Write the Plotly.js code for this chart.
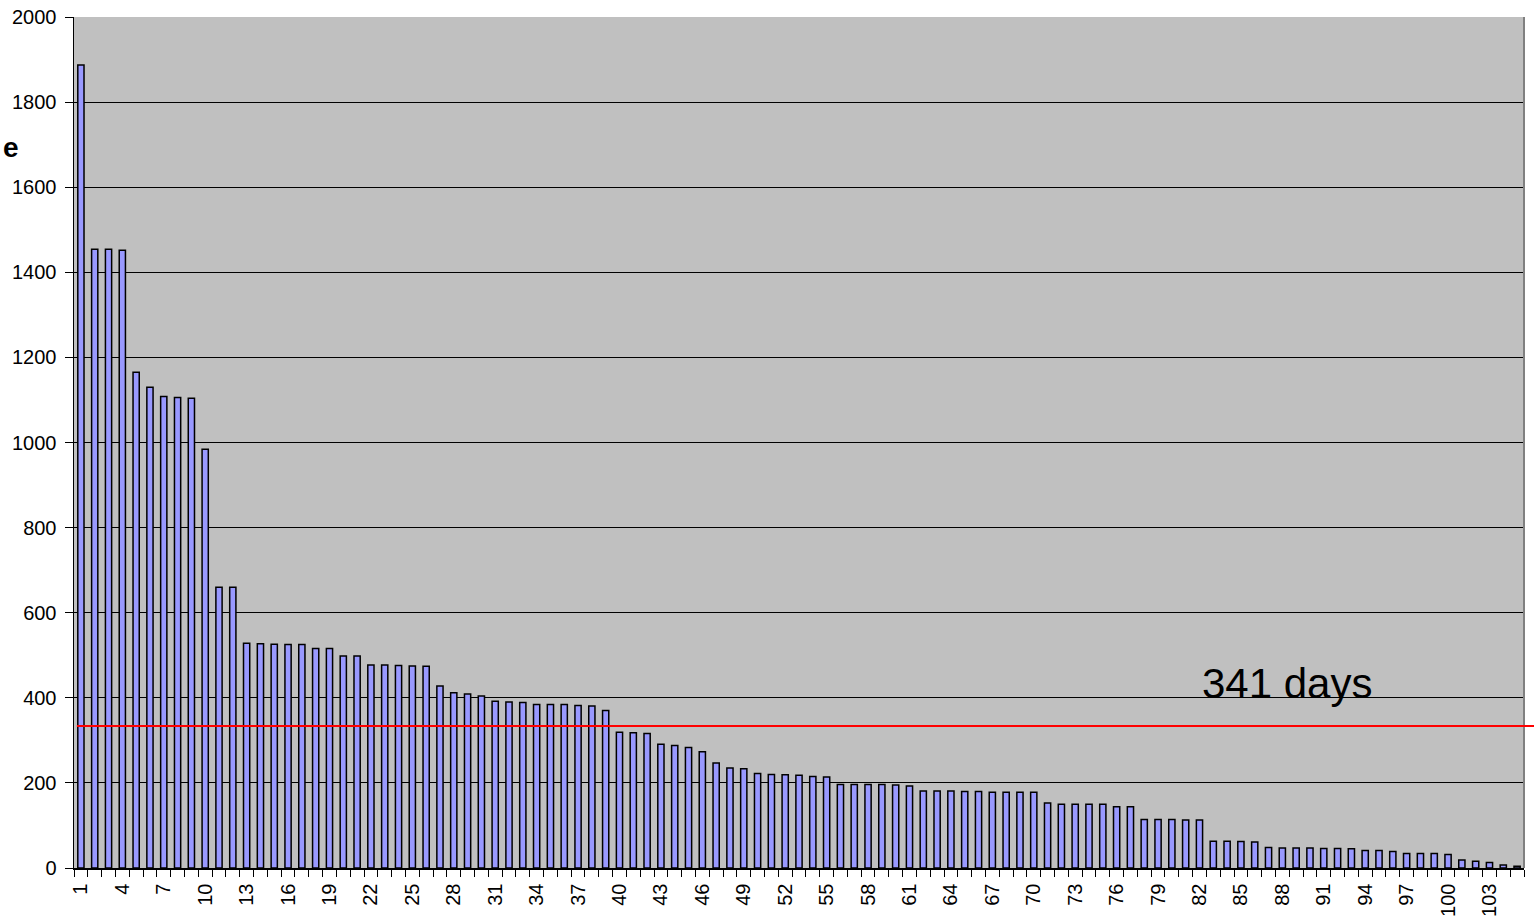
<!DOCTYPE html>
<html>
<head>
<meta charset="utf-8">
<script src="https://cdn.plot.ly/plotly-3.0.1.min.js"></script>
<style>html,body{margin:0;padding:0;background:#fff;}#chart{width:1534px;height:920px;}</style>
</head>
<body>
<div id="chart"></div>
<script>
const categories = Array.from({length: 105}, (_, i) => String(i + 1));
const values = [
  1887, 1454, 1454, 1452, 1165, 1130, 1108, 1106, 1104, 984,
  660, 660, 528, 527, 526, 525, 525, 516, 516, 498,
  498, 477, 477, 476, 475, 474, 428, 412, 409, 404,
  392, 390, 389, 384, 384, 384, 382, 381, 370, 319,
  318, 316, 291, 288, 283, 273, 247, 235, 233, 222,
  220, 219, 218, 215, 214, 196, 196, 196, 196, 195,
  193, 181, 181, 181, 180, 180, 178, 178, 178, 178,
  153, 150, 150, 150, 150, 144, 144, 114, 114, 114,
  113, 113, 63, 63, 62, 61, 48, 47, 47, 47,
  46, 46, 45, 41, 41, 39, 34, 34, 34, 32,
  19, 16, 13, 7, 4
];
const tickLabels = categories.map((c, i) => (i % 3 === 0 ? c : ''));
const averageDays = 334;
const averageLabel = '341 days';

const font = 'Arial, "Liberation Sans", sans-serif';

const trace = {
  type: 'bar',
  x: categories,
  y: values,
  marker: {color: '#9999FF', line: {color: '#000000', width: 1.5}},
  hoverinfo: 'x+y'
};

const layout = {
  width: 1534,
  height: 920,
  margin: {l: 74, r: 10, t: 17, b: 52},
  paper_bgcolor: '#ffffff',
  plot_bgcolor: '#C0C0C0',
  bargap: 0.55,
  showlegend: false,
  font: {family: font, color: '#000'},
  xaxis: {
    type: 'category',
    tickmode: 'array',
    tickvals: categories,
    ticktext: tickLabels,
    tickson: 'boundaries',
    ticks: 'outside',
    ticklen: 7,
    tickcolor: '#000',
    tickangle: -90,
    ticklabelstandoff: 6,
    tickfont: {family: font, size: 20, color: '#000'},
    showline: true,
    linecolor: '#000',
    linewidth: 1.5,
    showgrid: false,
    zeroline: false
  },
  yaxis: {
    range: [0, 2000],
    tickmode: 'linear',
    tick0: 0,
    dtick: 200,
    ticks: 'outside',
    ticklen: 8,
    tickcolor: '#000',
    ticklabelstandoff: 4,
    tickfont: {family: font, size: 20, color: '#000'},
    showline: true,
    linecolor: '#000',
    linewidth: 1.5,
    showgrid: true,
    gridcolor: '#000',
    gridwidth: 1,
    zeroline: false
  },
  shapes: [
    {type: 'line', xref: 'paper', yref: 'paper', x0: 1, x1: 1, y0: 0, y1: 1,
     line: {color: '#808080', width: 2}},
    {type: 'line', xref: 'paper', yref: 'y', x0: 0.002, x1: 1.01, y0: averageDays, y1: averageDays,
     line: {color: '#FF0000', width: 2}}
  ],
  annotations: [
    {xref: 'paper', yref: 'paper', x: 0.8366, y: 0.217, text: averageLabel, showarrow: false,
     xanchor: 'center', yanchor: 'middle', font: {family: font, size: 42, color: '#000'}},
    {xref: 'paper', yref: 'paper', x: -0.0505, y: 0.847, text: '<b>e</b>', showarrow: false,
     xanchor: 'left', yanchor: 'middle', font: {family: font, size: 28, color: '#000'}}
  ]
};

Plotly.newPlot('chart', [trace], layout, {displayModeBar: false, staticPlot: true});
</script>
</body>
</html>
